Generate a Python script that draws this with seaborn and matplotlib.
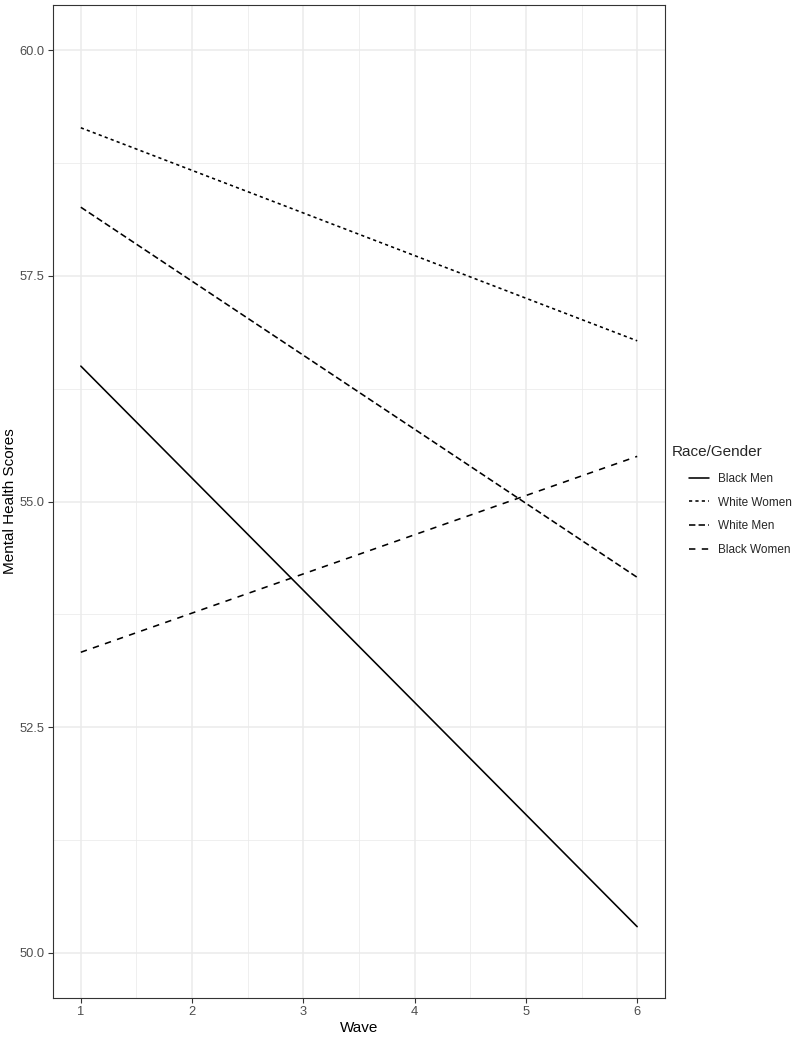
import numpy as np
import pandas as pd
import matplotlib
matplotlib.use("Agg")
import matplotlib.pyplot as plt
import seaborn as sns

# values (fitted lines, wave 1 and wave 6)
groups = ['Black Men', 'White Women', 'White Men', 'Black Women']
waves = [1, 6]
black_men = [56.5, 50.29]
white_women = [59.14, 56.78]
white_men = [58.26, 54.16]
black_women = [53.33, 55.50]

y_ticks = [50.0, 52.5, 55.0, 57.5, 60.0]
x_ticks = [1, 2, 3, 4, 5, 6]

df = pd.DataFrame({
    'Wave': waves * 4,
    'Score': black_men + white_women + white_men + black_women,
    'Race/Gender': [g for g in groups for _ in waves],
})

sns.set_style('white')
plt.rcParams['font.family'] = ['Liberation Sans', 'DejaVu Sans']

fig = plt.figure(figsize=(8, 10.38), dpi=100)
ax = fig.add_axes([53 / 800, 1 - 998 / 1038, (665 - 53) / 800, (998 - 5) / 1038])

dash_styles = {
    'Black Men': '',
    'White Women': (2, 2),
    'White Men': (4, 2),
    'Black Women': (4, 4),
}
sns.lineplot(data=df, x='Wave', y='Score', style='Race/Gender',
             style_order=groups, dashes=dash_styles, color='black',
             linewidth=1.15, ax=ax, zorder=3)

# ggplot theme_bw look
ax.set_xlim(0.75, 6.25)
ax.set_ylim(49.5, 60.5)
ax.set_xticks(x_ticks)
ax.set_yticks(y_ticks)
ax.set_yticklabels([f'{v:.1f}' for v in y_ticks])
ax.set_xticks([1.5, 2.5, 3.5, 4.5, 5.5], minor=True)
ax.set_yticks([51.25, 53.75, 56.25, 58.75], minor=True)
ax.grid(True, which='major', color='#EBEBEB', linewidth=1.1, zorder=0)
ax.grid(True, which='minor', color='#EBEBEB', linewidth=0.55, zorder=0)
ax.set_axisbelow(True)
for s in ax.spines.values():
    s.set_color('#333333')
    s.set_linewidth(0.8)
ax.tick_params(which='major', direction='out', length=3.5, width=0.8,
               color='#333333', labelcolor='#4D4D4D', labelsize=9.3, pad=2.5,
               bottom=True, left=True)
ax.tick_params(which='minor', length=0)

ax.set_xlabel('Wave', fontsize=11, color='black', labelpad=2)
ax.set_ylabel('Mental Health Scores', fontsize=11, color='black', labelpad=2)

leg = ax.legend(loc='center left', bbox_to_anchor=(1.022, 0.487), frameon=False,
                fontsize=8.5, handlelength=1.7, handletextpad=0.75,
                labelspacing=1.0)
fig.text(672 / 800, 1 - 452 / 1038, 'Race/Gender', fontsize=11,
         ha='left', va='center')

fig.savefig('out.png', dpi=100)
